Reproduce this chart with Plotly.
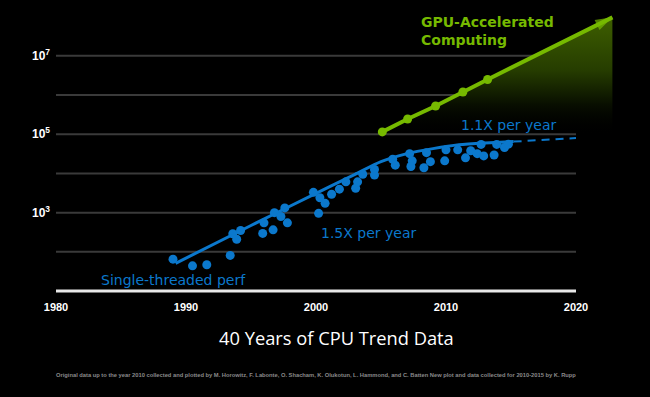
import plotly.graph_objects as go

# ---------------- data ----------------
cpu_years = [1989.0, 1990.5, 1991.6, 1993.4, 1993.6, 1993.9, 1994.2, 1995.9, 1996.0, 1996.7,
             1996.8, 1997.3, 1997.6, 1997.8, 1999.8, 2000.2, 2000.3, 2000.7, 2001.2, 2001.8,
             2002.3, 2003.05, 2003.2, 2003.6, 2004.5, 2004.5, 2005.9, 2006.1, 2007.2, 2007.4,
             2007.3, 2008.3, 2008.5, 2008.8, 2009.9, 2010.0, 2010.9, 2011.5, 2011.9, 2012.4,
             2012.9, 2012.7, 2013.7, 2013.9, 2014.5, 2014.8]
cpu_perf = [65, 44, 47, 81, 290, 210, 350, 295, 550, 365,
            1000, 800, 1320, 550, 3300, 960, 2400, 1730, 2950, 3980,
            6100, 4200, 6100, 9500, 12700, 9100, 23000, 16300, 32000, 21000,
            15000, 14000, 34000, 20000, 21000, 40000, 40000, 25000, 38000, 32000,
            28000, 55000, 29500, 55000, 46000, 56000]

trend_years = [1989.2, 1995, 2000, 2003, 2005, 2007, 2009, 2011, 2013, 2015.2]
trend_perf = [51, 470, 3100, 9500, 20000, 32000, 43000, 54000, 60000, 65000]

proj_years = [2015.2, 2020]
proj_perf = [65000, 80000]

gpu_years = [2005.1, 2007.05, 2009.2, 2011.3, 2013.2]
gpu_perf = [1.15e5, 2.45e5, 5.25e5, 1.2e6, 2.5e6]
gpu_arrow_year = 2022.8
gpu_arrow_perf = 9.6e7
gpu_fill_floor = 1e5

x_ticks = [1980, 1990, 2000, 2010, 2020]
y_grid = [1e2, 1e3, 1e4, 1e5, 1e6, 1e7]
y_ticks = [1e3, 1e5, 1e7]
y_ticktext = ["10<sup>3</sup>", "10<sup>5</sup>", "10<sup>7</sup>"]
axis_base = 10

BLUE = "#0b78cc"
GREEN = "#76b900"

fig = go.Figure()

# GPU gradient fill
fig.add_trace(go.Scatter(
    x=gpu_years + [gpu_arrow_year, gpu_arrow_year, gpu_years[0]],
    y=gpu_perf + [gpu_arrow_perf, gpu_fill_floor, gpu_fill_floor],
    mode="lines", line=dict(width=0), fill="toself",
    fillgradient=dict(type="vertical",
                      colorscale=[[0, "rgba(0,0,0,0)"], [0.25, "rgba(8,14,0,1)"],
                                  [0.55, "#263d00"], [1, "#3e5f00"]]),
    hoverinfo="skip", showlegend=False))

# CPU trend
fig.add_trace(go.Scatter(x=trend_years, y=trend_perf, mode="lines",
                         line=dict(color=BLUE, width=3, shape="spline", smoothing=0.6),
                         showlegend=False))
fig.add_trace(go.Scatter(x=proj_years, y=proj_perf, mode="lines",
                         line=dict(color=BLUE, width=2, dash="8px,6px"),
                         showlegend=False))
fig.add_trace(go.Scatter(x=cpu_years, y=cpu_perf, mode="markers",
                         marker=dict(color=BLUE, size=9), showlegend=False))

# GPU line
fig.add_trace(go.Scatter(x=gpu_years + [gpu_arrow_year], y=gpu_perf + [gpu_arrow_perf],
                         mode="lines", line=dict(color=GREEN, width=4), showlegend=False))
fig.add_trace(go.Scatter(x=gpu_years, y=gpu_perf, mode="markers",
                         marker=dict(color=GREEN, size=9), showlegend=False))
fig.add_trace(go.Scatter(x=gpu_years[-1:] + [gpu_arrow_year], y=gpu_perf[-1:] + [gpu_arrow_perf],
                         mode="markers",
                         marker=dict(color=GREEN, size=[0, 18], symbol="arrow", angleref="previous",
                                     line=dict(width=0)),
                         showlegend=False))

shapes = []
for g in y_grid:
    shapes.append(dict(type="line", xref="x", yref="y", x0=x_ticks[0], x1=x_ticks[-1],
                       y0=g, y1=g, layer="below",
                       line=dict(color="#3a3a3a", width=2)))
shapes.append(dict(type="line", xref="x", yref="y", x0=x_ticks[0], x1=x_ticks[-1],
                   y0=axis_base, y1=axis_base, layer="above", line=dict(color="#e8e8e8", width=3)))

annotations = [
    dict(text="GPU-Accelerated<br>Computing", xref="x", yref="y", x=2007.9, y=7.63,
         xanchor="left", yanchor="middle", align="left", showarrow=False,
         font=dict(family="DejaVu Sans", size=14, color=GREEN, weight="bold")),
    dict(text="1.1X per year", xref="x", yref="y", x=2011.0, y=5.235,
         xanchor="left", yanchor="middle", showarrow=False,
         font=dict(family="DejaVu Sans", size=14, color=BLUE)),
    dict(text="1.5X per year", xref="x", yref="y", x=2000.2, y=2.48,
         xanchor="left", yanchor="middle", showarrow=False,
         font=dict(family="DejaVu Sans", size=14, color=BLUE)),
    dict(text="Single-threaded perf", xref="x", yref="y", x=1983.3, y=1.28,
         xanchor="left", yanchor="middle", showarrow=False,
         font=dict(family="DejaVu Sans", size=14, color=BLUE)),
    dict(text="40 Years of CPU Trend Data", xref="paper", yref="paper", x=0.491, y=-0.154,
         xanchor="center", yanchor="middle", showarrow=False,
         font=dict(family="Open Sans", size=18.3, color="white")),
    dict(text="Original data up to the year 2010 collected and plotted by M. Horowitz, F. Labonte, O. Shacham, "
              "K. Olukotun, L. Hammond, and C. Batten New plot and data collected for 2010-2015 by K. Rupp",
         xref="paper", yref="paper", x=0.4545, y=-0.28, xanchor="center", yanchor="middle",
         showarrow=False, font=dict(family="Liberation Sans", size=5.75, color="#8a8a8a", weight="bold")),
]

fig.update_layout(
    width=650, height=397,
    margin=dict(l=56, r=22, t=1, b=104),
    paper_bgcolor="black", plot_bgcolor="black",
    shapes=shapes, annotations=annotations,
    xaxis=dict(range=[1980, 2024], tickvals=x_ticks, showgrid=False, zeroline=False,
               showline=False, ticks="", ticklabelstandoff=6,
               tickfont=dict(family="Liberation Sans", size=11, color="white", weight="bold")),
    yaxis=dict(type="log", range=[0.95, 8.4], tickvals=y_ticks, ticktext=y_ticktext,
               showgrid=False, zeroline=False, showline=False, ticks="", ticklabelstandoff=5,
               tickfont=dict(family="Liberation Sans", size=12, color="white", weight="bold")),
)

fig.write_html("out.html", config={"displayModeBar": False},
               post_script="document.body.style.margin='0px';document.body.style.background='black';")
